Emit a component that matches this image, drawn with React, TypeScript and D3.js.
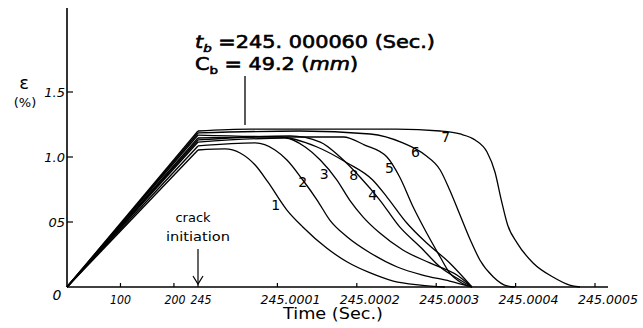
import React from "react";
import * as d3 from "d3";

// post-initiation points: [microseconds after 245 s, strain %]
const curve1 = [[0,1.054],[34,1.062],[53,1.031],[72,0.938],[88,0.808],[112,0.592],[132,0.462],[162,0.30],[188,0.192],[217,0.108],[246,0.046],[280,0.015],[311,0]];
const curve2 = [[0,1.085],[72,1.108],[97,1.054],[112,0.977],[132,0.823],[150,0.669],[166,0.515],[188,0.385],[217,0.262],[251,0.154],[283,0.092],[317,0.046],[345,0]];
const curve3 = [[0,1.115],[110,1.146],[135,1.077],[154,0.977],[175,0.823],[191,0.669],[208,0.538],[229,0.415],[258,0.285],[292,0.185],[326,0.092],[345,0]];
const curve4 = [[0,1.146],[103,1.154],[150,1.077],[188,0.954],[220,0.823],[238,0.692],[263,0.492],[288,0.338],[317,0.185],[336,0.062],[345,0]];
const curve5 = [[0,1.169],[128,1.154],[183,1.154],[210,1.092],[238,1.0],[254,0.846],[271,0.615],[288,0.415],[305,0.231],[317,0.108],[332,0.031],[345,0]];
const curve6 = [[0,1.185],[128,1.20],[217,1.177],[258,1.108],[286,1.015],[305,0.90],[317,0.746],[330,0.554],[343,0.362],[355,0.208],[372,0.077],[389,0.008],[399,0]];
const curve7 = [[0,1.20],[65,1.215],[250,1.215],[305,1.20],[330,1.177],[349,1.131],[364,1.038],[374,0.885],[382,0.669],[390,0.477],[402,0.338],[422,0.185],[447,0.077],[468,0.015],[481,0]];
const curve8 = [[0,1.131],[116,1.162],[154,1.115],[179,1.0],[204,0.846],[229,0.669],[254,0.462],[280,0.308],[305,0.154],[330,0.054],[345,0]];

const curveNames = ["1", "2", "3", "4", "5", "6", "7", "8"];
const curves = [curve1, curve2, curve3, curve4, curve5, curve6, curve7, curve8];
// label anchor points: [microseconds after 245 s, strain %]
const labelPos = [[98,0.592],[132,0.769],[159,0.830],[220,0.669],[241,0.877],[274,1.0],[312,1.115],[196,0.823]];

const xTickValues = [100, 200, 245, 245.0001, 245.0002, 245.0003, 245.0004, 245.0005];
const xTickLabels = ["100", "200", "245", "245.0001", "245.0002", "245.0003", "245.0004", "245.0005"];
const yTickValues = [0.5, 1.0, 1.5];
const yTickLabels = ["05", "1.0", "1.5"];

const T0 = 245;

export default function App() {
  const x = d3.scaleLinear().domain([0, 245, 245.0005]).range([67, 198, 595]);
  const y = d3.scaleLinear().domain([0, 1.5]).range([287, 92]);
  const tOf = (us: number) => T0 + us * 1e-6;
  const line = d3
    .line<number[]>()
    .x((d) => x(tOf(d[0])))
    .y((d) => y(d[1]))
    .curve(d3.curveMonotoneX);

  const tickFont = "'DejaVu Sans', sans-serif";
  return (
    <svg width={643} height={328} style={{ position: "absolute", left: 0, top: 0, background: "#fff" }}>
      {/* axes */}
      <line x1={x(0)} y1={8} x2={x(0)} y2={y(0)} stroke="#000" strokeWidth={1.6} />
      <line x1={x(0)} y1={y(0)} x2={608} y2={y(0)} stroke="#000" strokeWidth={1.6} />
      {xTickValues.map((v, i) => {
        const px = x(v);
        const post = v > 245;
        const lx = post ? px + 13 : v === 200 ? px + 1 : v === 245 ? px + 3 : px;
        return (
          <g key={"xt" + i}>
            <line x1={px} y1={y(0)} x2={px} y2={y(0) - 4} stroke="#000" strokeWidth={1.2} />
            <text
              x={lx}
              y={y(0) + 17}
              textAnchor="middle"
              fontFamily={tickFont}
              fontStyle="italic"
              fontSize={13}
              textLength={post ? 60 : 21}
              lengthAdjust="spacingAndGlyphs"
            >
              {xTickLabels[i]}
            </text>
          </g>
        );
      })}
      {yTickValues.map((v, i) => (
        <g key={"yt" + i}>
          <line x1={x(0)} y1={y(v)} x2={x(0) + 6} y2={y(v)} stroke="#000" strokeWidth={1.2} />
          <text x={x(0) - 2} y={y(v) + 5} textAnchor="end" fontFamily={tickFont} fontStyle="italic" fontSize={13}>
            {yTickLabels[i]}
          </text>
        </g>
      ))}
      <text x={57} y={y(0) + 13} textAnchor="middle" fontFamily={tickFont} fontStyle="italic" fontSize={14}>0</text>
      <text x={24} y={89} textAnchor="middle" fontFamily={tickFont} fontSize={18}>ε</text>
      <text x={25} y={107} textAnchor="middle" fontFamily={tickFont} fontSize={13}>(%)</text>
      <text x={333} y={319} textAnchor="middle" fontFamily={tickFont} fontSize={15} textLength={100} lengthAdjust="spacingAndGlyphs">Time (Sec.)</text>

      {/* crack initiation annotation */}
      <text x={193} y={222} textAnchor="middle" fontFamily={tickFont} fontSize={13}>crack</text>
      <text x={198} y={241} textAnchor="middle" fontFamily={tickFont} fontSize={13} textLength={64} lengthAdjust="spacingAndGlyphs">initiation</text>
      <line x1={198} y1={249} x2={198} y2={283} stroke="#000" strokeWidth={1.2} />
      <path d="M193,276 L198,284 L203,276" fill="none" stroke="#000" strokeWidth={1.2} />

      {/* title annotation */}
      <text x={195} y={48} fontFamily={tickFont} fontSize={17} stroke="#000" strokeWidth={0.6} textLength={240} lengthAdjust="spacingAndGlyphs">
        <tspan fontStyle="italic">t</tspan>
        <tspan fontSize={11} dy={4} fontStyle="italic">b</tspan>
        <tspan dy={-4}> =245. 000060 (Sec.)</tspan>
      </text>
      <text x={195} y={70} fontFamily={tickFont} fontSize={17} stroke="#000" strokeWidth={0.6} textLength={163} lengthAdjust="spacingAndGlyphs">
        <tspan>C</tspan>
        <tspan fontSize={11} dy={4}>b</tspan>
        <tspan dy={-4}> = 49.2 (</tspan>
        <tspan fontStyle="italic">mm</tspan>
        <tspan>)</tspan>
      </text>
      <line x1={245} y1={76} x2={245} y2={125} stroke="#000" strokeWidth={1.3} />

      {/* curves */}
      {curves.map((c, i) => (
        <g key={"c" + i}>
          <line x1={x(0)} y1={y(0)} x2={x(T0)} y2={y(c[0][1])} stroke="#000" strokeWidth={1.4} />
          <path d={line(c) || ""} fill="none" stroke="#000" strokeWidth={1.3} />
        </g>
      ))}
      {curveNames.map((n, i) => (
        <text
          key={"l" + i}
          x={x(tOf(labelPos[i][0]))}
          y={y(labelPos[i][1])}
          textAnchor="middle"
          fontFamily={tickFont}
          fontSize={14}
        >
          {n}
        </text>
      ))}
    </svg>
  );
}
